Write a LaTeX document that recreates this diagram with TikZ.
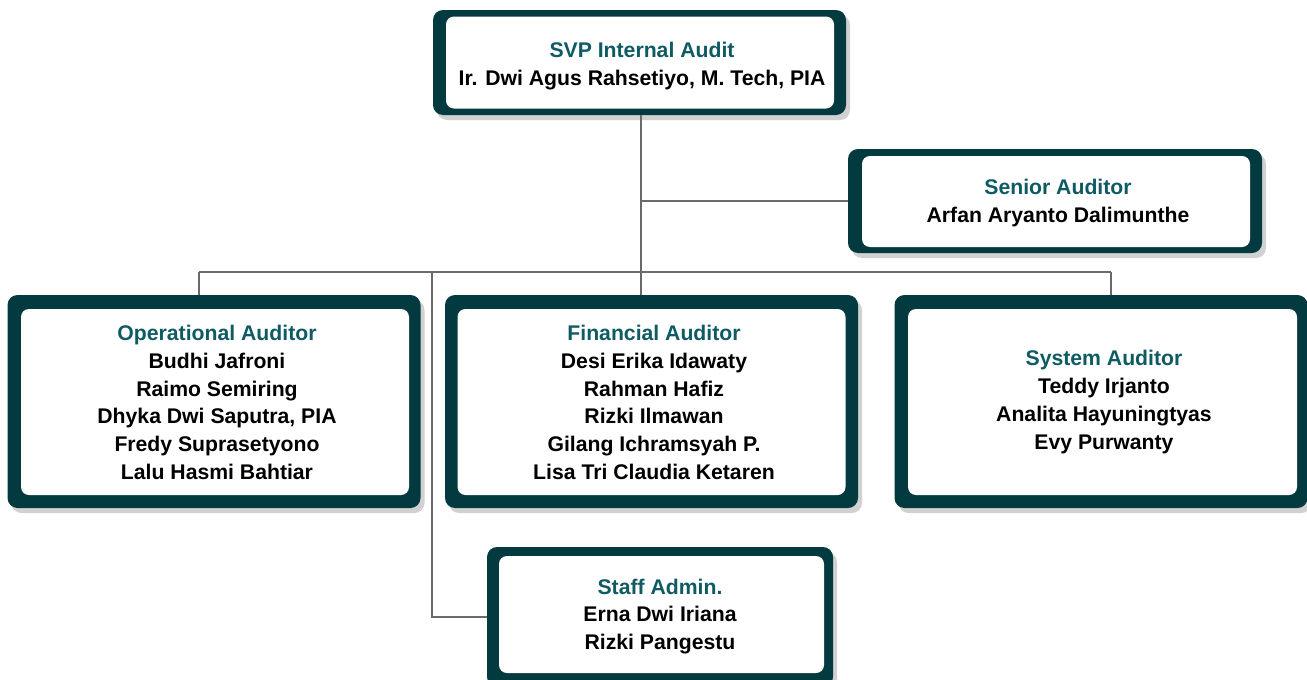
\documentclass[tikz,border=0pt]{standalone}
\usepackage{fontspec}
\setmainfont{Liberation Sans}
\usetikzlibrary{shadows,calc}
\definecolor{boxdark}{HTML}{033A40}
\definecolor{titlecol}{HTML}{0F5B63}
\definecolor{linecol}{HTML}{6A6A6A}
\tikzset{
  outerbox/.style={fill=boxdark, rounded corners=10pt, inner sep=0pt,
    drop shadow={shadow xshift=4pt, shadow yshift=-5pt, opacity=0.18, fill=black}},
  innerbox/.style={fill=white, rounded corners=8pt, inner sep=0pt},
  txt/.style={align=center, font=\fontsize{21.2}{27.8}\selectfont\bfseries, text=black, inner sep=0pt},
  conn/.style={draw=linecol, line width=1.6pt},
}
\newcommand{\ttl}[1]{\textcolor{titlecol}{#1}}
\begin{document}
\begin{tikzpicture}[x=1pt,y=-1pt]
\useasboundingbox (0,0) rectangle (1307,680);
% connectors
\coordinate (b1) at (199,272);
\coordinate (b2) at (432,272);
\coordinate (b3) at (1111,272);
\coordinate (bt) at (641,115);
% boxes
\node[outerbox, minimum width=413pt, minimum height=105pt] (svp) at (639.5,62.5) {};
\node[outerbox, minimum width=414pt, minimum height=104pt] (sen) at (1055,201) {};
\node[outerbox, minimum width=413pt, minimum height=213pt] (ops) at (214,401.5) {};
\node[outerbox, minimum width=413pt, minimum height=213pt] (fin) at (651.5,401.5) {};
\node[outerbox, minimum width=413pt, minimum height=213pt] (sys) at (1101,401.5) {};
\node[outerbox, minimum width=346pt, minimum height=140pt] (adm) at (660,617) {};
\draw[conn] (bt) -- (bt |- fin.north);
\draw[conn] (bt |- sen.west) -- (sen.west);
\draw[conn] (b1) -- (b3);
\draw[conn] (b1) -- (b1 |- ops.north);
\draw[conn] (b3) -- (b3 |- sys.north);
\draw[conn] (b2) |- (adm.west);
% inner white panels
\node[innerbox, minimum width=388pt, minimum height=92pt] (svpi) at (640,62.5) {};
\node[innerbox, minimum width=388pt, minimum height=91pt] (seni) at (1056,201.5) {};
\node[innerbox, minimum width=388pt, minimum height=186pt] (opsi) at (215,402) {};
\node[innerbox, minimum width=388pt, minimum height=186pt] (fini) at (651.5,402) {};
\node[innerbox, minimum width=389pt, minimum height=186pt] (sysi) at (1102.5,402) {};
\node[innerbox, minimum width=325pt, minimum height=117pt] (admi) at (661.5,614.5) {};
% texts
\node[txt] (svpt) at (642,66) {\ttl{SVP Internal Audit}\\Ir. Dwi Agus Rahsetiyo, M. Tech, PIA};
\node[txt] (sent) at (1058,203) {\ttl{Senior Auditor}\\Arfan Aryanto Dalimunthe};
\node[txt] (opst) at (217,402.5) {\ttl{Operational Auditor}\\Budhi Jafroni\\Raimo Semiring\\Dhyka Dwi Saputra, PIA\\Fredy Suprasetyono\\Lalu Hasmi Bahtiar};
\node[txt] (fint) at (654,402.5) {\ttl{Financial Auditor}\\Desi Erika Idawaty\\Rahman Hafiz\\Rizki Ilmawan\\Gilang Ichramsyah P.\\Lisa Tri Claudia Ketaren};
\node[txt] (syst) at (1104,402) {\ttl{System Auditor}\\Teddy Irjanto\\Analita Hayuningtyas\\Evy Purwanty};
\node[txt] (admt) at (660,616.5) {\ttl{Staff Admin.}\\Erna Dwi Iriana\\Rizki Pangestu};
\end{tikzpicture}
\end{document}
